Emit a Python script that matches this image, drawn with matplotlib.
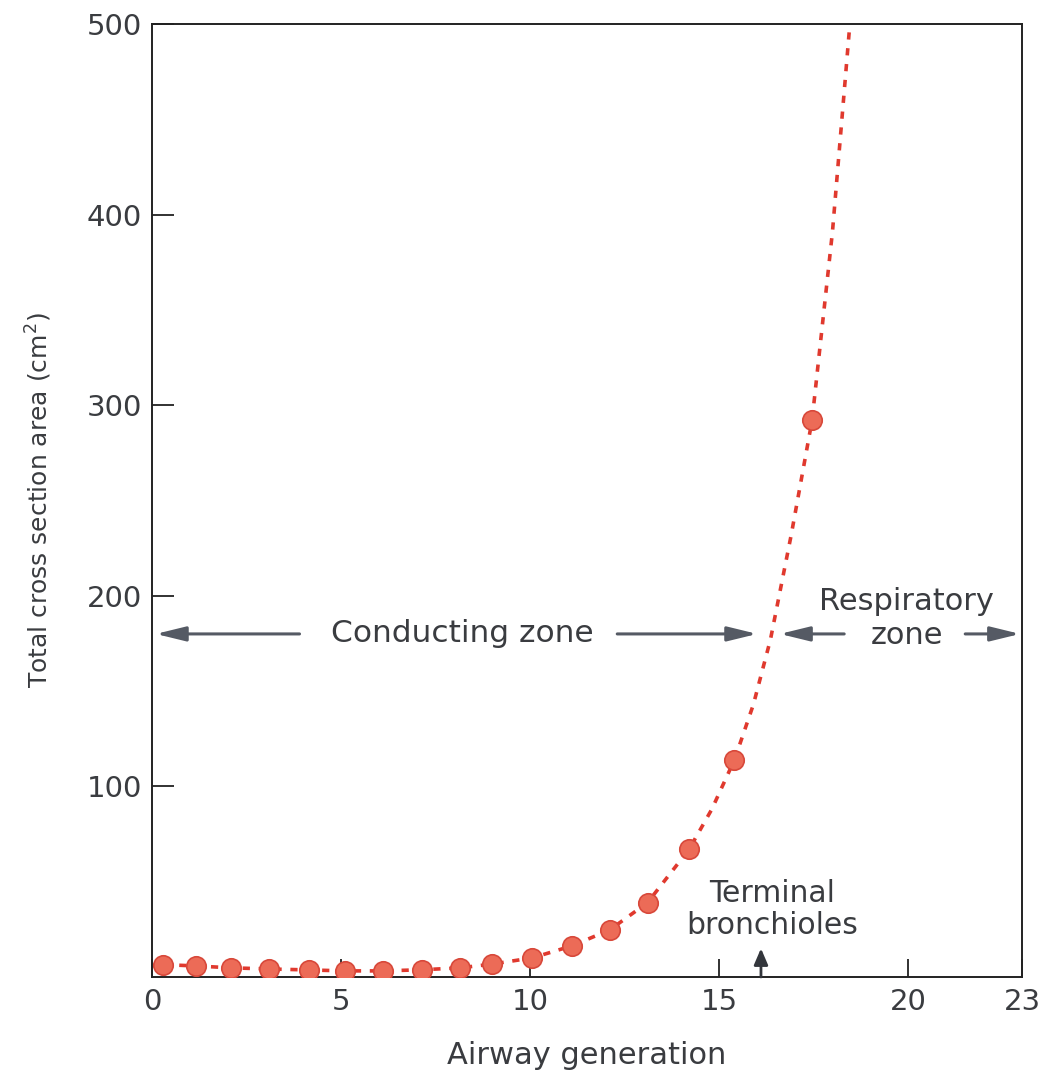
import matplotlib
matplotlib.use('Agg')
import matplotlib.pyplot as plt

# values
generation = [0.3, 1.15, 2.1, 3.1, 4.15, 5.1, 6.1, 7.15, 8.15, 9.0,
              10.05, 11.1, 12.1, 13.1, 14.2, 15.4, 17.45]
area = [6.5, 5.8, 4.8, 4.2, 3.7, 3.2, 3.2, 3.8, 4.8, 6.8,
        10, 16.3, 24.7, 39, 67, 114, 292]

# dotted trend line
curve_gen = [0.3, 1.15, 2.1, 3.1, 4.15, 5.1, 6.1, 7.15, 8.15, 9.0,
             10.05, 11.1, 12.1, 13.1, 14.2, 14.8, 15.4, 15.9, 16.35,
             16.9, 17.45, 17.99, 18.45]
curve_area = [6.5, 5.8, 4.8, 4.2, 3.7, 3.2, 3.2, 3.8, 4.8, 6.8,
              10, 16.3, 24.7, 39, 67, 88, 114, 143, 177,
              232, 292, 391, 500]

xticks = [0, 5, 10, 15, 20, 23]
yticks = [100, 200, 300, 400, 500]

txt = '#3a3c40'
arrow_col = '#555a64'

fig = plt.figure(figsize=(10.39, 10.78), dpi=100)
ax = fig.add_axes([0.1463, 0.0937, 0.8373, 0.884])

ax.plot(curve_gen, curve_area, color='#e0392e', lw=2.6,
        dashes=(2, 2.4), zorder=2)
ax.plot(generation, area, 'o', ms=14, mfc='#ec6b57', mec='#d8483a',
        mew=1.2, zorder=3)

ax.set_xlim(0, 23)
ax.set_ylim(0, 500)
ax.set_xticks(xticks)
ax.set_yticks(yticks)
ax.tick_params(axis='x', direction='in', length=13, width=1.3,
               labelsize=21, pad=8, colors='#222', labelcolor=txt)
ax.tick_params(axis='y', direction='in', length=16, width=1.3,
               labelsize=21, pad=7, colors='#222', labelcolor=txt)
for s in ax.spines.values():
    s.set_color('#222')
    s.set_linewidth(1.4)

ax.set_xlabel('Airway generation', fontsize=22, color=txt, labelpad=18)
ax.set_ylabel('Total cross section area (cm$^2$)', fontsize=18,
              color=txt, labelpad=24)

# zone annotations
zone_y = 180
ap = dict(arrowstyle='-|>,head_length=0.9,head_width=0.22',
          mutation_scale=20, lw=2.2, color=arrow_col, shrinkA=0, shrinkB=0)
ax.text(8.2, zone_y, 'Conducting zone', fontsize=22.5, color=txt,
        ha='center', va='center')
ax.annotate('', xy=(0.1, zone_y), xytext=(3.9, zone_y), arrowprops=ap)
ax.annotate('', xy=(16.0, zone_y), xytext=(12.3, zone_y), arrowprops=ap)

ax.text(19.95, 197, 'Respiratory', fontsize=22, color=txt,
        ha='center', va='center')
ax.text(19.95, 179, 'zone', fontsize=22, color=txt,
        ha='center', va='center')
ax.annotate('', xy=(16.6, zone_y), xytext=(18.3, zone_y), arrowprops=ap)
ax.annotate('', xy=(22.95, zone_y), xytext=(21.5, zone_y), arrowprops=ap)

ax.text(16.4, 44, 'Terminal', fontsize=21.5, color=txt,
        ha='center', va='center')
ax.text(16.4, 27, 'bronchioles', fontsize=21.5, color=txt,
        ha='center', va='center')
ax.annotate('', xy=(16.1, 15), xytext=(16.1, 0),
            arrowprops=dict(arrowstyle='-|>,head_length=0.7,head_width=0.3',
                            mutation_scale=14, lw=2.0, color='#33363c',
                            shrinkA=0, shrinkB=0))

fig.savefig('out.png', dpi=100)
